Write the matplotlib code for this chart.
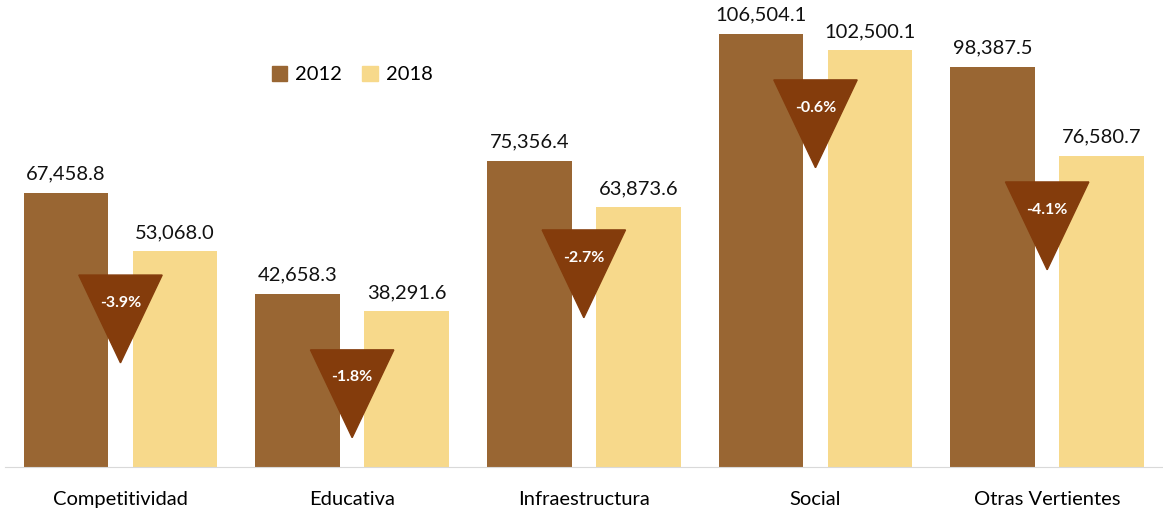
import matplotlib
matplotlib.use("Agg")
import matplotlib.pyplot as plt
from matplotlib.patches import Polygon, Patch
import numpy as np

# ----- data -----
categories = ["Competitividad", "Educativa", "Infraestructura", "Social", "Otras Vertientes"]
v2012 = [67458.8, 42658.3, 75356.4, 106504.1, 98387.5]
v2018 = [53068.0, 38291.6, 63873.6, 102500.1, 76580.7]
growth = ["-3.9%", "-1.8%", "-2.7%", "-0.6%", "-4.1%"]
tri_top = [47200, 28800, 58300, 95200, 70100]   # where each marker sits

C12 = "#996633"
C18 = "#F7D98B"
CTRI = "#843C0C"

plt.rcParams["font.family"] = ["Lato", "DejaVu Sans"]

fig = plt.figure(figsize=(11.63, 5.12), dpi=100)
ax = fig.add_axes([0.004, 0.088, 0.996, 0.912])

x = np.arange(len(categories))
w = 0.365
off = 0.235
ax.bar(x - off, v2012, w, color=C12)
ax.bar(x + off, v2018, w, color=C18)

for xi, a, b in zip(x, v2012, v2018):
    ax.text(xi - off, a + 2500, f"{a:,.1f}", ha="center", va="bottom", fontsize=14.5, color="#111111")
    ax.text(xi + off, b + 2500, f"{b:,.1f}", ha="center", va="bottom", fontsize=14.5, color="#111111")

# ----- tasa de crecimiento (triangulos) -----
th = 21600
tw = 0.36
for xi, top, g in zip(x, tri_top, growth):
    tri = Polygon([[xi - tw / 2, top], [xi + tw / 2, top], [xi, top - th]],
                  closed=True, color=CTRI, zorder=3)
    ax.add_patch(tri)
    ax.text(xi, top - 6800, g, ha="center", va="center", color="white",
            fontsize=11.5, fontweight="bold", zorder=4)

ax.set_xlim(-0.5, len(categories) - 0.5)
ax.set_ylim(0, 114850)
ax.set_yticks([])
ax.set_xticks(x)
ax.set_xticklabels(categories, fontsize=14.5)
ax.tick_params(axis="x", length=0, pad=17)
for s in ["top", "right", "left"]:
    ax.spines[s].set_visible(False)
ax.spines["bottom"].set_color("#D9D9D9")

handles = [Patch(color=C12, label="2012"), Patch(color=C18, label="2018")]
fig.legend(handles=handles, loc="center", bbox_to_anchor=(0.303, 0.854), ncol=2,
           frameon=False, fontsize=14.5, handlelength=0.75, handleheight=0.75,
           handletextpad=0.4, columnspacing=1.0)

fig.savefig("out.png", dpi=100)
